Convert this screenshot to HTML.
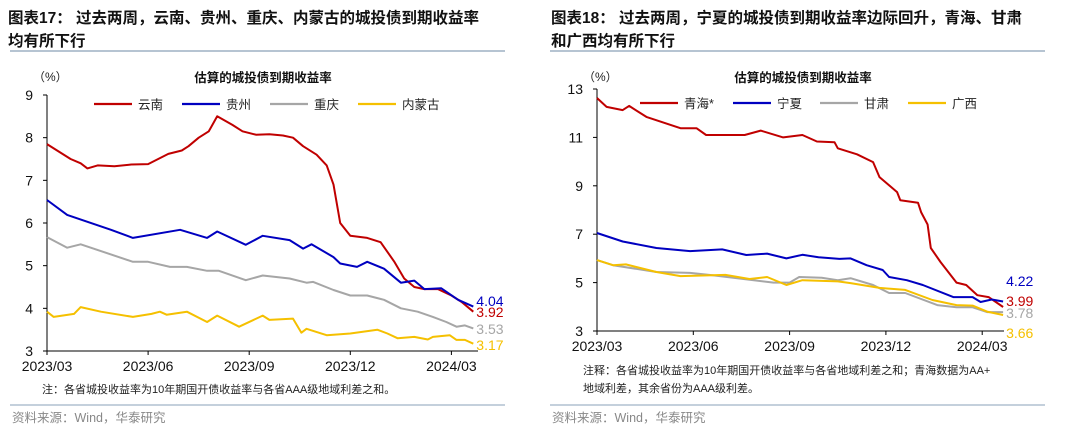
<!DOCTYPE html>
<html><head><meta charset="utf-8">
<style>
body{margin:0;width:1080px;height:429px;background:#fff;overflow:hidden;font-family:"Liberation Sans","Noto Sans CJK SC",sans-serif;}
svg{position:absolute;left:0;top:0}
</style></head>
<body>
<svg id="c" width="1080" height="429" xmlns="http://www.w3.org/2000/svg">
<g font-family="'Liberation Sans','Noto Sans CJK SC',sans-serif">
<text x="8" y="23" font-size="15.5" font-weight="bold" fill="#111">图表17：  过去两周，云南、贵州、重庆、内蒙古的城投债到期收益率</text>
<text x="8" y="46" font-size="15.5" font-weight="bold" fill="#111">均有所下行</text>
<line x1="10" y1="51" x2="505" y2="51" stroke="#8aa0b8" stroke-width="1.2"/>
<text x="551" y="23" font-size="15.5" font-weight="bold" fill="#111">图表18：  过去两周，宁夏的城投债到期收益率边际回升，青海、甘肃</text>
<text x="551" y="46" font-size="15.5" font-weight="bold" fill="#111">和广西均有所下行</text>
<line x1="550" y1="51" x2="1045" y2="51" stroke="#8aa0b8" stroke-width="1.2"/>
<text x="42" y="393" font-size="11" fill="#222">注：各省城投收益率为10年期国开债收益率与各省AAA级地域利差之和。</text>
<text x="583" y="374" font-size="11" fill="#222">注释：各省城投收益率为10年期国开债收益率与各省地域利差之和；青海数据为AA+</text>
<text x="583" y="392" font-size="11" fill="#222">地域利差，其余省份为AAA级利差。</text>
<line x1="10" y1="405" x2="505" y2="405" stroke="#8aa0b8" stroke-width="1"/>
<line x1="550" y1="405" x2="1045" y2="405" stroke="#8aa0b8" stroke-width="1"/>
<text x="12" y="422" font-size="12.5" fill="#888">资料来源：Wind，华泰研究</text>
<text x="552" y="422" font-size="12.5" fill="#888">资料来源：Wind，华泰研究</text>
</g>
</svg>
<script>
// ---- Left chart data (t = months since 2023/03) ----
const xTickLabels=["2023/03","2023/06","2023/09","2023/12","2024/03"];
const leftYTicks=[3,4,5,6,7,8,9];
const rightYTicks=[3,5,7,9,11,13];
const leftNames=["云南","贵州","重庆","内蒙古"];
const rightNames=["青海*","宁夏","甘肃","广西"];
const ynT=[0,0.3,0.7,1.0,1.2,1.5,2,2.5,3,3.3,3.6,4.0,4.2,4.5,4.8,5.05,5.5,5.8,6.2,6.6,7.0,7.3,7.6,8.0,8.3,8.5,8.7,9.0,9.5,9.9,10.3,10.6,10.9,11.2,11.6,12.0,12.3,12.65];
const ynV=[7.85,7.7,7.5,7.4,7.28,7.35,7.33,7.37,7.38,7.5,7.62,7.7,7.8,8.0,8.15,8.5,8.3,8.15,8.07,8.08,8.05,8.0,7.8,7.6,7.35,6.9,6.0,5.7,5.65,5.55,5.1,4.7,4.5,4.45,4.45,4.3,4.15,3.92];
const gzT=[0,0.6,1.9,2.55,3.95,4.75,5.05,5.9,6.4,7.2,7.6,7.85,8.5,8.7,9.2,9.5,10.0,10.5,10.9,11.2,11.7,12.2,12.65];
const gzV=[6.54,6.19,5.84,5.65,5.84,5.65,5.8,5.49,5.7,5.6,5.4,5.5,5.2,5.05,4.97,5.09,4.93,4.6,4.65,4.45,4.47,4.2,4.04];
const cqT=[0,0.6,1,2.55,3,3.65,4.15,4.75,5.1,5.9,6.4,7.2,7.7,7.9,8.5,9,9.5,10,10.5,11,11.45,11.85,12.15,12.4,12.65];
const cqV=[5.67,5.42,5.5,5.09,5.09,4.97,4.97,4.88,4.88,4.66,4.77,4.7,4.6,4.62,4.43,4.3,4.3,4.2,4.0,3.92,3.8,3.68,3.57,3.6,3.53];
const nmT=[0,0.2,0.8,1,1.6,2.55,3.1,3.35,3.55,4.15,4.75,5.05,5.7,6.4,6.6,7.3,7.55,7.7,8.3,9,9.8,10.1,10.4,10.9,11.3,11.45,11.95,12.15,12.4,12.65];
const nmV=[3.92,3.8,3.87,4.03,3.92,3.8,3.87,3.92,3.85,3.92,3.68,3.83,3.57,3.83,3.73,3.76,3.43,3.52,3.37,3.41,3.5,3.41,3.3,3.33,3.27,3.33,3.37,3.26,3.26,3.17];
// ---- Right chart data ----
const qhT=[0,0.3,0.8,1.0,1.55,2.6,3.1,3.4,4.6,5.1,5.8,6.4,6.85,7.4,7.5,8.1,8.6,8.8,9.35,9.45,10.0,10.1,10.3,10.4,10.7,11.2,11.5,11.85,12.2,12.65];
const qhV=[12.63,12.26,12.13,12.3,11.84,11.38,11.38,11.1,11.1,11.28,11.0,11.1,10.83,10.8,10.55,10.3,9.98,9.36,8.74,8.4,8.3,7.9,7.4,6.43,5.85,5.0,4.9,4.48,4.4,3.99];
const nxT=[0,0.8,1.85,2.9,3.9,4.65,5.3,5.9,6.4,6.9,7.55,7.9,8.4,8.9,9.1,9.65,10.15,11.1,11.7,11.95,12.3,12.65];
const nxV=[7.05,6.7,6.43,6.3,6.37,6.14,6.2,6.0,6.15,6.05,5.98,6.0,5.72,5.52,5.23,5.1,4.9,4.4,4.4,4.2,4.3,4.22];
const gsT=[0,0.5,1.85,2.9,3.6,5.5,6.0,6.3,7.0,7.5,7.9,8.6,9.1,9.6,10.6,11.2,11.7,12.15,12.65];
const gsV=[5.93,5.72,5.44,5.4,5.3,5.0,5.0,5.23,5.2,5.1,5.18,4.9,4.57,4.57,4.07,3.98,3.98,3.78,3.78];
const gxT=[0,0.5,0.9,1.85,2.6,4.0,4.75,5.3,5.9,6.4,7.5,7.9,8.8,9.6,10.45,11.2,11.7,12.15,12.65];
const gxV=[5.93,5.72,5.75,5.44,5.27,5.32,5.15,5.23,4.9,5.1,5.05,4.98,4.78,4.7,4.28,4.07,4.05,3.8,3.66];

const colors=["#c00000","#0000c0","#a6a6a6","#f5c000"];
const NS="http://www.w3.org/2000/svg";
const svg=document.getElementById('c');
function mk(tag,attrs,parent){const e=document.createElementNS(NS,tag);for(const k in attrs)e.setAttribute(k,attrs[k]);(parent||svg).appendChild(e);return e;}

function drawChart(cfg){
  const g=mk('g',{'font-family':"'Liberation Sans','Noto Sans CJK SC',sans-serif"});
  
  
  const X=t=>cfg.x0+t*cfg.mpx;
  const Y=v=>cfg.yBot-(v-cfg.yMin)/(cfg.yMax-cfg.yMin)*(cfg.yBot-cfg.yTop);
  const ct=mk('text',{x:cfg.titleX,y:82,'font-size':12.5,'font-weight':'bold','text-anchor':'middle',fill:'#111'},g);
  ct.textContent='估算的城投债到期收益率';
  
  
  const un=mk('text',{x:cfg.x0-14,y:81,'font-size':12,fill:'#222'},g);
  un.textContent='（%）';
  
  
  const ya=mk('line',{x1:cfg.x0,y1:cfg.yTop,x2:cfg.x0,y2:cfg.yBot,stroke:'#000','stroke-width':1},g);
  
  
  const xa=mk('line',{x1:cfg.x0,y1:cfg.yBot,x2:cfg.xEnd,y2:cfg.yBot,stroke:'#000','stroke-width':1},g);
  
  
  cfg.yTicks.forEach(v=>{
    mk('line',{x1:cfg.x0-4,y1:Y(v),x2:cfg.x0,y2:Y(v),stroke:'#000'},g);
    const t=mk('text',{x:cfg.x0-14,y:Y(v)+5,'font-size':14,'text-anchor':'end',fill:'#111'},g);
    t.textContent=v;
    
    
  });
  xTickLabels.forEach((lab,i)=>{
    const xx=X(i*3);
    mk('line',{x1:xx,y1:cfg.yBot,x2:xx,y2:cfg.yBot+4,stroke:'#000'},g);
    const t=mk('text',{x:xx,y:cfg.yBot+20,'font-size':14,'text-anchor':'middle',fill:'#111'},g);
    t.textContent=lab;
    
    
  });
  cfg.series.forEach((s,i)=>{
    const d=s.t.map((t,j)=>(j?'L':'M')+X(t).toFixed(1)+','+Y(s.v[j]).toFixed(1)).join('');
    const p=mk('path',{d:d,fill:'none',stroke:colors[i],'stroke-width':2,'stroke-linejoin':'round'},g);
    
    
    const last=s.v[s.v.length-1];
    const lb=mk('text',{x:X(s.t[s.t.length-1])+3,y:cfg.endY[i],'font-size':14,fill:colors[i]},g);
    lb.textContent=last.toFixed(2);
    
    
    const lx=cfg.legX[i];
    const ll=mk('line',{x1:lx,y1:cfg.legY,x2:lx+38,y2:cfg.legY,stroke:colors[i],'stroke-width':2.2},g);
    
    
    const lt=mk('text',{x:lx+44,y:cfg.legY+5,'font-size':12.5,fill:'#222'},g);
    lt.textContent=cfg.names[i];
    
    
  });
}
drawChart({id:'left-chart',x0:47,mpx:33.7,xEnd:478,yTop:95,yBot:351,yMin:3,yMax:9,yTicks:leftYTicks,titleX:263,
  legY:104,legX:[94,182,270,358],names:leftNames,endY:[317,306,334,350],
  series:[{key:'yunnan',t:ynT,v:ynV},{key:'guizhou',t:gzT,v:gzV},{key:'chongqing',t:cqT,v:cqV},{key:'neimenggu',t:nmT,v:nmV}]});
drawChart({id:'right-chart',x0:597,mpx:32.1,xEnd:1004,yTop:89,yBot:331,yMin:3,yMax:13,yTicks:rightYTicks,titleX:803,
  legY:103,legX:[640,733,820,908],names:rightNames,endY:[306,286,318,338],
  series:[{key:'qinghai',t:qhT,v:qhV},{key:'ningxia',t:nxT,v:nxV},{key:'gansu',t:gsT,v:gsV},{key:'guangxi',t:gxT,v:gxV}]});
</script>
</body></html>
